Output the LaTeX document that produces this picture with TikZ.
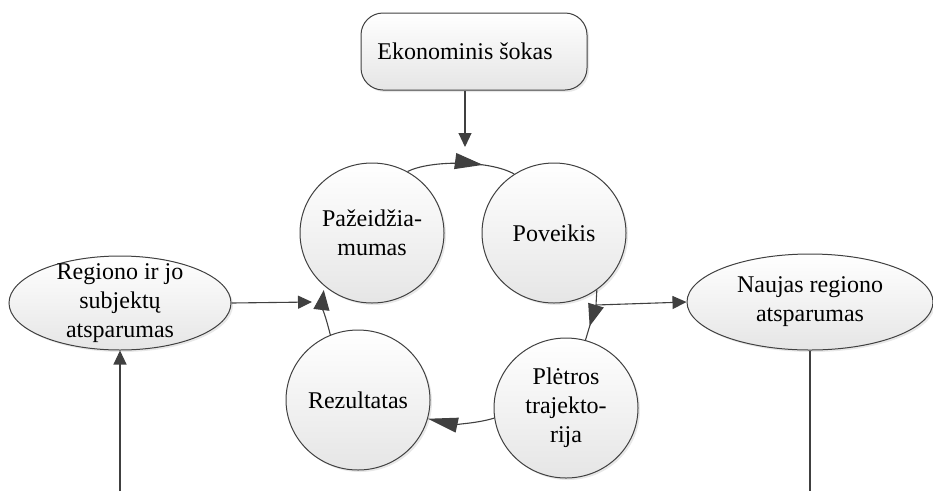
\documentclass[tikz,border=0pt]{standalone}
\usepackage{fontspec}
\setmainfont{Liberation Serif}
\usetikzlibrary{arrows.meta,shapes.geometric,shadows,decorations.markings,calc}
\definecolor{ln}{HTML}{404040}
\begin{document}
\begin{tikzpicture}[x=1pt,y=-1pt,
  shp/.style={draw=ln, line width=1pt, top color=white, bottom color=black!10,
    drop shadow={shadow xshift=2pt,shadow yshift=-2pt,opacity=0.18},
    font=\fontsize{24}{29}\selectfont, align=center, inner sep=-20pt},
  cyc/.style={shp, ellipse, minimum width=144pt, minimum height=140pt},
  oval/.style={shp, ellipse},
  boxshape/.style={shp, rectangle, inner sep=3pt, rounded corners=22pt},
  con/.style={draw=ln, line width=1.1pt},
  tipS/.style={-{Triangle[length=14pt,width=13pt]}},
  midarrow/.style n args={3}{postaction={decorate}, decoration={markings,
    mark=at position #1 with {\arrow[ln]{Triangle[length=#2,width=#3]}}}},
]
\useasboundingbox (0,0) rectangle (933,491);

\node[boxshape, minimum width=226pt, minimum height=77pt] (shock) at (474,51.5) {Ekonominis šokas\hspace*{18pt}};

\node[cyc] (paz) at (372,233) {Pažeidžia-\\mumas};
\node[cyc] (pov) at (554,233) {Poveikis};
\node[cyc] (ple) at (566,408) {Plėtros\\trajekto-\\rija};
\node[cyc] (rez) at (358,400) {Rezultatas};

\node[oval, minimum width=222pt, minimum height=94pt] (reg) at (120,303) {Regiono ir jo\\subjektų\\atsparumas};
\node[oval, minimum width=246pt, minimum height=96pt] (nau) at (810,302) {Naujas regiono\\atsparumas};

\coordinate (shockin) at (465,147);
\coordinate (tipL) at (312,302);
\coordinate (botL) at (120,491);
\coordinate (botR) at (812,491);
\coordinate (jr) at (596,305);

\draw[con, tipS] (shock.south -| shockin) -- (shockin);
\draw[con, tipS] (reg.east) -- (tipL);
\draw[con, tipS] (botL) -- (reg.south);
\draw[con] (nau.south) -- (nau.south |- botR);

\draw[con, midarrow={0.7}{28pt}{16pt}] (paz.60) .. controls (430,160) and (490,160) .. (pov.124);
\draw[con, midarrow={0.72}{22pt}{16pt}] (pov.-53) -- (jr) -- (ple.74);
\draw[con, tipS] (jr) -- (nau.west);
\draw[con, -{Triangle[length=30pt,width=15pt]}] (ple.188) .. controls (475,424) and (452,424) .. (rez.-15);
\draw[con, -{Triangle[length=20pt,width=16pt]}, shorten >=4pt] (rez.113) .. controls (326,318) and (322,305) .. (paz.228);
\end{tikzpicture}
\end{document}
